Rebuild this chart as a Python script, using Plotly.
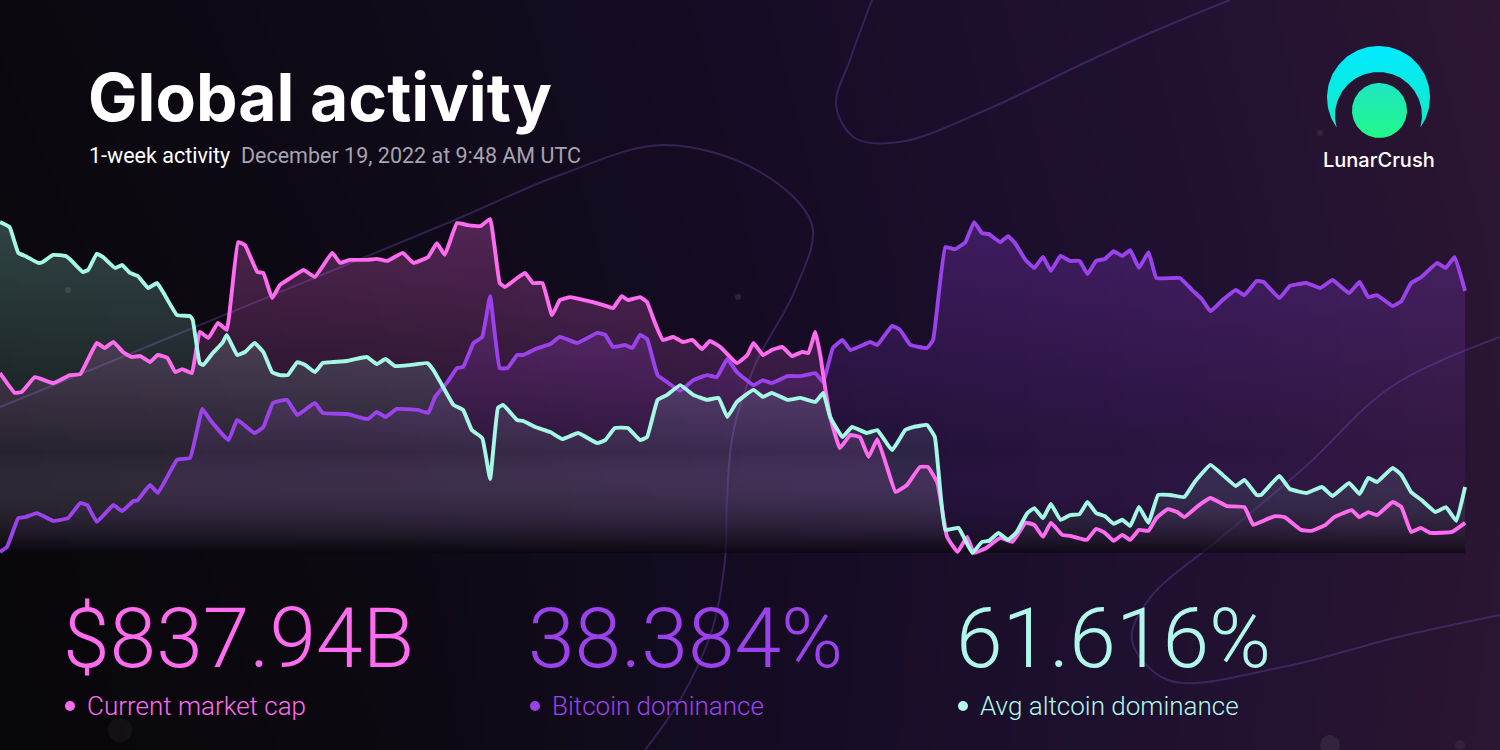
import numpy as np
import plotly.graph_objects as go

# ---------------- data (hours since start, relative index 0-100 of each series' weekly range)
cap_hours = [0.0,1.7,2.5,4.0,6.1,8.0,9.2,11.1,12.0,13.0,
             14.1,15.1,16.1,17.2,18.1,19.2,20.1,20.9,22.0,22.9,
             23.9,25.0,26.0,27.3,28.1,29.5,30.2,31.2,32.1,33.3,
             34.8,36.1,38.1,39.0,40.1,42.1,43.2,44.4,46.2,47.4,
             49.1,50.1,51.0,52.4,53.6,55.1,56.2,57.3,57.9,59.3,
             60.2,61.1,62.2,63.3,64.2,65.4,66.5,68.0,69.2,70.3,
             71.3,72.0,73.4,74.2,75.1,76.0,77.2,78.3,79.4,80.5,
             81.4,82.6,84.5,85.7,86.4,87.5,88.5,89.7,90.8,92.0,
             92.7,93.5,94.1,94.6,95.2,96.3,97.5,98.6,99.6,100.6,
             101.7,102.7,104.0,105.5,106.4,107.5,108.6,109.8,110.9,111.7,
             113.1,114.7,116.1,117.6,118.6,119.6,120.5,121.8,122.7,124.6,
             125.7,126.7,127.7,128.7,129.6,130.6,131.7,132.6,133.9,135.0,
             135.8,137.5,138.8,140.7,142.7,143.7,144.6,146.2,147.3,149.2,
             150.4,152.0,153.0,155.0,155.9,156.9,157.9,159.7,160.7,161.8,
             162.9,164.0,166.5,168.0]
cap_index = [53.7,47.8,48.1,52.5,50.7,53.1,53.4,62.7,61.2,63.0,
             60.0,58.5,58.8,57.0,59.1,58.2,54.0,54.9,53.7,66.0,
             64.2,68.7,66.6,92.8,91.9,83.9,83.6,76.1,80.0,82.1,
             84.5,82.4,89.6,86.6,87.5,87.5,87.8,87.2,89.6,86.6,
             88.4,92.5,89.0,98.5,97.9,97.6,99.7,80.6,79.4,82.1,
             83.6,80.6,80.6,71.0,75.5,76.4,75.8,74.9,74.0,73.1,
             76.7,75.5,76.4,74.9,68.7,63.6,64.5,63.0,63.6,60.9,
             63.3,61.5,56.7,59.1,62.7,59.1,60.6,61.5,58.8,60.0,
             59.7,66.0,58.5,49.6,40.6,31.3,35.2,34.6,28.7,34.0,
             25.7,18.2,20.3,25.7,25.7,20.9,4.8,0.3,4.8,0.0,
             1.5,4.5,3.3,9.0,8.4,4.8,9.0,5.4,5.1,3.9,
             7.2,6.0,3.6,5.4,3.9,6.9,6.6,10.4,13.1,12.2,
             10.7,14.3,16.4,14.0,13.7,8.4,9.3,11.0,10.7,6.9,
             6.6,8.4,10.7,12.8,10.7,12.2,11.3,15.2,13.7,6.3,
             7.5,6.0,6.3,9.0]

btc_hours = [0.0,0.8,2.1,2.9,4.2,6.1,7.8,9.2,10.0,11.1,
             13.0,14.0,15.3,15.8,17.2,18.1,20.3,21.8,23.2,24.1,
             26.2,27.2,29.2,30.2,31.3,32.9,34.1,36.1,37.0,39.8,
             42.2,43.2,44.2,45.5,47.9,49.1,49.9,51.3,52.4,53.1,
             54.3,55.3,56.2,57.3,58.2,59.3,60.0,61.4,63.1,64.2,
             66.2,68.5,69.4,70.3,71.7,72.5,73.4,74.2,75.4,76.5,
             78.0,79.5,81.1,82.2,83.4,84.5,86.4,87.5,88.5,90.3,
             91.8,93.5,94.4,95.5,96.6,97.5,99.8,100.6,102.3,103.2,
             104.4,106.3,107.0,108.4,109.5,110.7,111.7,112.6,113.4,114.7,
             115.6,116.4,117.6,118.6,119.6,120.5,121.6,122.7,123.8,124.7,
             125.7,126.7,127.7,128.7,129.6,130.6,131.7,132.6,135.3,136.7,
             137.8,138.8,140.2,141.7,142.7,144.1,144.9,146.7,147.9,149.8,
             151.4,152.8,154.7,155.9,156.9,157.9,159.7,160.7,161.8,163.0,
             164.8,165.8,166.8,168.0]
btc_index = [0.3,1.8,10.4,10.7,11.9,9.6,10.4,14.9,14.3,9.3,
             14.3,12.5,15.5,15.8,20.3,17.9,27.8,28.4,43.0,39.7,
             33.7,39.7,35.8,37.6,44.8,45.7,41.2,44.8,41.8,41.5,
             40.0,42.1,40.6,43.0,42.7,41.8,46.6,51.0,55.2,55.5,
             62.7,64.5,76.7,55.2,55.2,59.1,59.1,60.9,62.4,64.5,
             62.7,65.7,65.1,61.5,62.1,61.2,65.1,63.9,53.1,51.0,
             48.4,51.6,53.1,52.5,57.9,54.0,50.1,51.6,50.7,52.8,
             52.8,53.7,51.0,61.2,63.6,60.6,63.0,62.1,67.8,66.6,
             62.1,61.2,63.6,91.3,90.7,92.8,98.8,95.5,95.2,92.8,
             94.6,92.5,87.5,85.1,88.4,84.2,88.7,87.2,87.2,83.3,
             87.2,87.8,90.1,88.7,90.4,85.1,89.8,82.1,82.1,78.5,
             75.8,72.2,75.5,78.5,77.0,81.2,80.9,76.1,79.7,80.6,
             79.1,81.5,77.6,80.9,76.4,77.0,73.7,75.2,80.6,82.4,
             86.6,85.1,88.4,78.2]

alt_hours = [0.0,1.1,2.1,3.1,4.4,4.9,6.1,7.5,8.0,9.5,
             10.1,11.1,11.8,13.2,14.0,14.9,15.8,17.0,18.0,18.7,
             20.3,21.8,22.1,22.9,23.3,24.4,25.5,26.0,27.2,28.1,
             29.2,30.2,31.2,32.1,33.0,34.1,35.0,36.1,37.0,38.2,
             39.8,40.7,42.1,43.2,44.2,45.3,47.0,49.0,49.7,50.5,
             52.0,53.1,54.1,55.3,56.2,57.1,57.7,59.3,60.0,61.4,
             63.1,64.5,66.3,68.5,69.4,70.5,72.0,73.4,74.2,75.4,
             76.5,78.0,79.5,81.1,82.4,83.4,84.5,86.4,87.5,88.5,
             90.3,91.8,93.5,94.4,95.2,96.6,97.7,99.4,100.6,102.3,
             103.8,104.7,106.3,107.2,108.4,109.9,111.5,112.6,113.4,114.5,
             115.6,116.6,117.8,118.6,119.6,120.5,121.6,122.7,123.8,124.7,
             125.7,126.7,127.7,128.7,129.6,130.6,131.7,132.8,134.2,135.8,
             137.0,138.8,140.2,141.7,142.7,144.1,144.6,146.7,147.9,149.8,
             151.6,152.8,154.7,155.9,156.9,157.9,159.7,160.7,161.8,163.0,
             164.6,165.8,167.0,168.0]
alt_index = [98.8,97.3,89.6,88.4,86.6,86.9,89.0,88.7,87.8,83.9,
             84.5,89.3,88.4,85.1,86.0,83.6,82.7,79.1,80.6,77.9,
             71.0,70.7,69.6,56.7,56.1,59.7,62.7,65.1,59.1,60.0,
             62.7,60.0,54.0,53.1,53.1,57.0,56.1,54.0,56.7,57.0,
             57.3,57.9,58.5,56.4,57.9,55.8,56.1,56.7,54.6,51.0,
             44.2,42.7,36.7,34.3,22.1,43.3,44.2,39.7,39.4,37.6,
             36.1,34.0,35.8,32.8,33.7,37.3,37.3,33.7,34.6,45.7,
             47.2,50.1,47.2,45.7,46.3,40.6,45.1,48.7,46.6,47.8,
             45.7,46.3,45.1,47.8,40.6,34.6,37.6,35.8,36.7,30.7,
             36.7,37.6,38.2,34.6,6.9,7.5,0.0,3.3,3.6,6.0,
             3.9,6.3,11.9,13.4,10.4,14.6,9.9,11.3,11.6,15.2,
             11.9,11.0,8.7,9.9,8.1,13.7,9.0,17.3,17.3,16.7,
             21.2,26.3,23.3,20.0,21.8,17.3,17.3,23.0,19.1,17.9,
             19.7,17.0,20.9,17.6,22.4,21.2,25.4,23.3,18.2,15.8,
             12.2,13.7,9.6,19.7]

title_text = "Global activity"
period_label = "1-week activity"
timestamp_label = "December 19, 2022 at 9:48 AM UTC"
brand = "LunarCrush"
stat_values = ["$837.94B", "38.384%", "61.616%"]
stat_labels = ["Current market cap", "Bitcoin dominance", "Avg altcoin dominance"]

PINK = "#ff6cf0"
PURPLE = "#9b42ec"
MINT = "#a6f8e6"

W, H = 1500, 750
fig = go.Figure()

# ---------------- background (decorative) on x/y axes, pixel-like units
bg_x = [0, 375, 750, 1125, 1500]
bg_y = [0, 250, 500, 750]
bg_z = [[0.10, 0.28, 0.52, 0.76, 1.00],
        [0.05, 0.22, 0.48, 0.72, 0.96],
        [0.02, 0.16, 0.45, 0.72, 0.95],
        [0.00, 0.12, 0.46, 0.74, 0.97]]
fig.add_trace(go.Heatmap(x=bg_x, y=bg_y, z=bg_z, zsmooth="best", showscale=False,
                         zmin=0, zmax=1, hoverinfo="skip",
                         colorscale=[[0, "#08070a"], [0.25, "#0f0a17"], [0.5, "#160c25"],
                                     [0.75, "#1f1030"], [1, "#2c1632"]],
                         xaxis="x", yaxis="y"))

curves = [
    [(0, 407), (200, 325), (450, 222), (560, 175), (664, 145), (760, 172), (812, 225),
     (795, 290), (755, 365), (733, 433), (727, 500), (725, 560), (712, 630), (680, 700), (645, 750)],
    [(872, 0), (850, 60), (836, 105), (855, 138), (900, 142), (986, 110), (1080, 65), (1150, 33), (1230, 0)],
    [(1500, 337), (1391, 387), (1305, 467), (1218, 540), (1150, 598), (1132, 640), (1168, 680),
     (1283, 667), (1398, 637), (1500, 615)],
]
for c in curves:
    fig.add_trace(go.Scatter(x=[p[0] for p in c], y=[p[1] for p in c], mode="lines",
                             line=dict(color="rgba(115,80,185,0.33)", width=2, shape="spline", smoothing=1.0),
                             hoverinfo="skip", showlegend=False, xaxis="x", yaxis="y"))

dots = [(68, 290, 6, 0.14), (738, 297, 6, 0.14), (1320, 133, 6, 0.10), (120, 730, 24, 0.06),
        (1330, 745, 20, 0.10), (1460, 745, 10, 0.08)]
fig.add_trace(go.Scatter(x=[d[0] for d in dots], y=[d[1] for d in dots], mode="markers",
                         marker=dict(size=[d[2] for d in dots],
                                     color=[f"rgba(255,255,255,{d[3]})" for d in dots], line=dict(width=0)),
                         hoverinfo="skip", showlegend=False, xaxis="x", yaxis="y"))

# logo
cx, cy, R = 1378.5, 97.5, 51.5
icx, icy, r = 1378.5, 115.5, 43.5
a_out = np.radians(np.linspace(215.8, -35.8, 120))
a_in = np.radians(np.linspace(-16.2, 196.2, 120))
cres_x = np.concatenate([cx + R * np.cos(a_out), icx + r * np.cos(a_in)])
cres_y = np.concatenate([cy - R * np.sin(a_out), icy - r * np.sin(a_in)])
fig.add_trace(go.Scatter(x=cres_x, y=cres_y, mode="lines", fill="toself", line=dict(width=0),
                         fillgradient=dict(type="vertical", start=46, stop=128,
                                           colorscale=[[0, "#00e9ff"], [1, "#12ecc6"]]),
                         hoverinfo="skip", showlegend=False, xaxis="x", yaxis="y"))
a_c = np.radians(np.linspace(0, 360, 140))
fig.add_trace(go.Scatter(x=1379.5 + 27.5 * np.cos(a_c), y=110.5 - 27.5 * np.sin(a_c), mode="lines",
                         fill="toself", line=dict(width=0),
                         fillgradient=dict(type="vertical", start=83, stop=138,
                                           colorscale=[[0, "#1ee6c4"], [1, "#22f888"]]),
                         hoverinfo="skip", showlegend=False, xaxis="x", yaxis="y"))

# ---------------- chart on x2/y2
series = [(btc_hours, btc_index, PURPLE, (157, 66, 236), 0.28),
          (cap_hours, cap_index, PINK, (255, 108, 240), 0.28),
          (alt_hours, alt_index, MINT, (166, 248, 230), 0.25)]
for hrs, vals, col, rgb, top in series:
    c = f"{rgb[0]},{rgb[1]},{rgb[2]}"
    fig.add_trace(go.Scatter(x=hrs, y=vals, mode="lines", fill="tozeroy", line=dict(width=0),
                             fillgradient=dict(type="vertical", start=0, stop=100,
                                               colorscale=[[0, "rgba(8,6,12,0.30)"],
                                                           [0.3, f"rgba({c},0.08)"],
                                                           [1, f"rgba({c},{top})"]]),
                             hoverinfo="skip", showlegend=False, xaxis="x2", yaxis="y2"))
for hrs, vals, col, rgb, top in series:
    fig.add_trace(go.Scatter(x=hrs, y=vals, mode="lines",
                             line=dict(color=col, width=3.9, shape="spline", smoothing=0.3),
                             hoverinfo="skip", showlegend=False, xaxis="x2", yaxis="y2"))

# ---------------- stat blocks
stat_x = [61, 526, 954]
stat_cols = [PINK, PURPLE, "#b2f8ea"]
fig.add_trace(go.Scatter(x=[sx + 9 for sx in stat_x], y=[706, 706, 706], mode="markers",
                         marker=dict(size=10, color=stat_cols, line=dict(width=0)),
                         hoverinfo="skip", showlegend=False, xaxis="x", yaxis="y"))

def px(x):
    return x / W

def py(y):
    return 1 - y / H

ann = []
ann.append(dict(x=px(86), y=py(97), text=title_text, xanchor="left", yanchor="middle",
                font=dict(family="Inter", size=66, color="#ffffff", weight=700)))
ann.append(dict(x=px(87), y=py(155),
                text=f"{period_label}  <span style='color:#a7a3b3'>{timestamp_label}</span>",
                xanchor="left", yanchor="middle",
                font=dict(family="Roboto", size=21.5, color="#ffffff")))
ann.append(dict(x=px(1379), y=py(160), text=brand, xanchor="center", yanchor="middle",
                font=dict(family="Inter", size=20, color="#ffffff", weight=500)))
for sx, val, lab, col in zip(stat_x, stat_values, stat_labels, stat_cols):
    ann.append(dict(x=px(sx), y=py(638), xanchor="left", yanchor="middle", text=val,
                    font=dict(family="Roboto", size=84, color=col, weight=300)))
    ann.append(dict(x=px(sx + 24), y=py(706), xanchor="left", yanchor="middle", text=lab,
                    font=dict(family="Roboto", size=26, color=col, weight=300)))
for a in ann:
    a.update(xref="paper", yref="paper", showarrow=False)

hidden = dict(visible=False, showgrid=False, zeroline=False, fixedrange=True)
fig.update_layout(
    width=W, height=H, margin=dict(l=0, r=0, t=0, b=0),
    paper_bgcolor="#0b0910", plot_bgcolor="rgba(0,0,0,0)", showlegend=False,
    xaxis=dict(hidden, domain=[0, 1], range=[0, W]),
    yaxis=dict(hidden, domain=[0, 1], range=[H, 0]),
    xaxis2=dict(hidden, domain=[0, 1469 / W], range=[0, 168.45], anchor="y2"),
    yaxis2=dict(hidden, domain=[(H - 563) / H, (H - 208) / H], range=[-3, 103], anchor="x2"),
    annotations=ann,
)
fig.write_html("out.html", config={"displayModeBar": False},
               post_script="document.body.style.margin='0';document.body.style.overflow='hidden';"
                           "document.documentElement.style.overflow='hidden';")
